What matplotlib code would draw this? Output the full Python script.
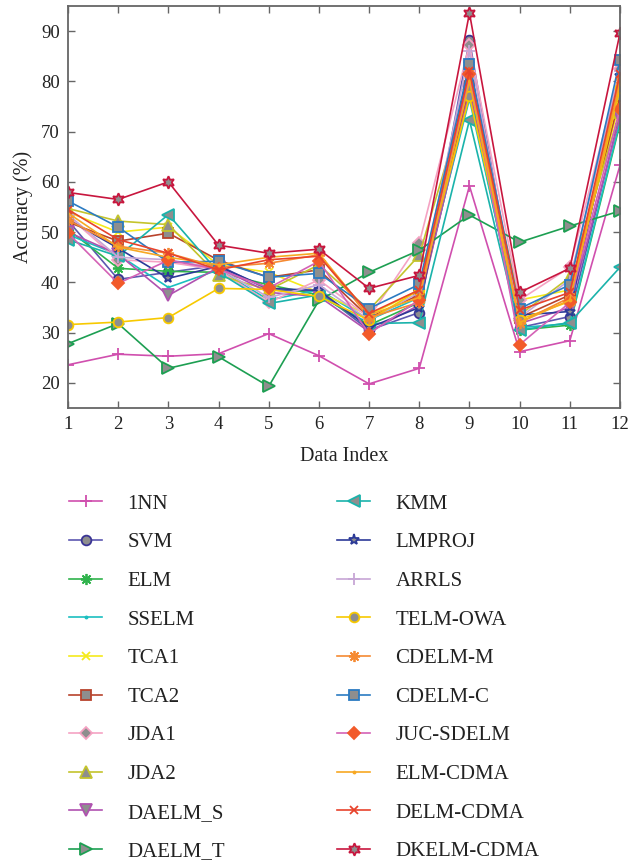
import numpy as np
import matplotlib.pyplot as plt

plt.rcParams['font.family'] = ['Liberation Serif', 'DejaVu Serif']

x = np.arange(1, 13)

# accuracy (%) per method, data index 1..12
acc_1nn = [23.6, 25.7, 25.3, 25.8, 29.8, 25.4, 19.8, 22.9, 59.2, 26.2, 28.4, 63.3]
acc_svm = [52.3, 40.6, 42.0, 43.4, 38.5, 38.2, 30.5, 34.0, 88.2, 31.0, 33.2, 73.5]
acc_elm = [50.5, 42.8, 42.2, 42.0, 39.5, 37.5, 31.5, 36.0, 77.5, 30.5, 31.5, 71.6]
acc_sselm = [49.5, 45.5, 39.0, 42.5, 36.5, 38.5, 32.5, 37.0, 76.5, 31.0, 31.8, 72.0]
acc_tca1 = [54.0, 50.0, 51.0, 43.5, 42.0, 38.0, 33.5, 38.5, 78.5, 36.5, 38.5, 76.0]
acc_tca2 = [52.0, 48.2, 49.8, 44.4, 41.0, 42.5, 33.0, 37.5, 79.0, 33.0, 37.5, 77.0]
acc_jda1 = [53.2, 44.5, 44.0, 42.5, 36.0, 40.5, 33.0, 47.8, 87.3, 36.5, 43.0, 82.5]
acc_jda2 = [54.7, 52.2, 51.5, 41.4, 38.5, 43.5, 34.5, 45.4, 79.5, 33.5, 41.0, 74.0]
acc_daelm_s = [50.0, 45.6, 37.4, 43.0, 38.0, 37.2, 30.2, 35.5, 78.0, 31.8, 35.0, 73.0]
acc_daelm_t = [27.8, 31.8, 22.9, 25.2, 19.3, 36.4, 42.0, 46.4, 53.4, 48.0, 51.2, 54.2]
acc_kmm = [48.5, 45.2, 53.5, 42.0, 35.8, 37.5, 31.8, 32.0, 72.3, 30.5, 32.0, 43.0]
acc_lmproj = [52.5, 46.8, 40.8, 43.2, 38.8, 38.4, 31.0, 35.0, 83.5, 33.5, 34.2, 81.0]
acc_arrls = [53.5, 45.0, 44.5, 42.8, 37.0, 39.5, 32.5, 38.0, 86.0, 33.0, 40.5, 82.0]
acc_telm_owa = [31.6, 32.1, 33.0, 38.8, 38.6, 37.2, 32.5, 38.5, 77.0, 32.6, 36.2, 78.6]
acc_cdelm_m = [52.4, 47.2, 45.8, 43.0, 43.8, 45.5, 33.0, 36.0, 81.6, 32.0, 37.0, 80.5]
acc_cdelm_c = [56.2, 51.0, 44.0, 44.2, 41.0, 41.8, 34.8, 39.6, 83.5, 34.8, 39.5, 84.3]
acc_juc_sdelm = [49.8, 39.8, 44.4, 42.6, 38.9, 44.2, 29.8, 36.5, 81.4, 27.6, 36.0, 74.6]
acc_elm_cdma = [53.8, 47.0, 45.0, 43.5, 45.0, 45.8, 33.5, 37.0, 80.0, 32.0, 36.5, 79.5]
acc_delm_cdma = [54.5, 48.5, 45.8, 42.5, 44.5, 45.2, 33.8, 38.5, 82.0, 34.5, 38.0, 81.5]
acc_dkelm_cdma = [57.9, 56.5, 60.0, 47.4, 45.8, 46.6, 38.8, 41.4, 93.6, 38.0, 42.8, 89.6]

gray = '#8e8e8e'
asterisk = (8, 2, 0)
hexagram = (6, 1, 0)

# label, data, line color, marker, marker face, marker edge, marker size
series = [
    ('1NN', acc_1nn, '#d04fae', '+', 'none', '#d04fae', 8),
    ('SVM', acc_svm, '#5c58b0', 'o', gray, '#3a3494', 7),
    ('ELM', acc_elm, '#2fb34c', asterisk, '#2fb34c', '#2fb34c', 8),
    ('SSELM', acc_sselm, '#1bbfc0', '.', '#1bbfc0', '#1bbfc0', 3),
    ('TCA1', acc_tca1, '#f5ea1c', 'x', 'none', '#f5ea1c', 6),
    ('TCA2', acc_tca2, '#b8432c', 's', gray, '#b8432c', 6.5),
    ('JDA1', acc_jda1, '#f5a3c3', 'D', gray, '#f5a3c3', 6),
    ('JDA2', acc_jda2, '#c4c42c', '^', gray, '#c4c42c', 8),
    ('DAELM_S', acc_daelm_s, '#b052b0', 'v', gray, '#b052b0', 8),
    ('DAELM_T', acc_daelm_t, '#1d9f52', '>', gray, '#1d9f52', 8),
    ('KMM', acc_kmm, '#1ab3ab', '<', gray, '#1ab3ab', 8),
    ('LMPROJ', acc_lmproj, '#2c3a98', '*', gray, '#2c3a98', 8),
    ('ARRLS', acc_arrls, '#c7a6d6', '+', 'none', '#c7a6d6', 8),
    ('TELM-OWA', acc_telm_owa, '#f7c900', 'o', gray, '#f7c900', 7),
    ('CDELM-M', acc_cdelm_m, '#f58a32', asterisk, '#f58a32', '#f58a32', 8),
    ('CDELM-C', acc_cdelm_c, '#2b7bc2', 's', gray, '#2b7bc2', 6.5),
    ('JUC-SDELM', acc_juc_sdelm, '#d462b6', 'D', '#f25a2a', '#f25a2a', 6),
    ('ELM-CDMA', acc_elm_cdma, '#f7a823', '.', '#f7a823', '#f7a823', 3),
    ('DELM-CDMA', acc_delm_cdma, '#e8432c', 'x', 'none', '#e8432c', 6),
    ('DKELM-CDMA', acc_dkelm_cdma, '#c8163e', hexagram, gray, '#c8163e', 9),
]

fig = plt.figure(figsize=(6.33, 8.61), dpi=100)
ax = fig.add_axes([68 / 633, 1 - 408 / 861, (620 - 68) / 633, (408 - 6) / 861])

handles = []
for name, vals, col, mk, mfc, mec, ms in series:
    h, = ax.plot(x, vals, color=col, lw=1.2, marker=mk, markerfacecolor=mfc,
                 markeredgecolor=mec, markersize=ms, markeredgewidth=1.3, label=name)
    handles.append(h)

ax.set_xlim(1, 12)
ax.set_ylim(15, 95)
ax.set_xticks(x)
ax.set_yticks([20, 30, 40, 50, 60, 70, 80, 90])
ax.tick_params(direction='in', top=True, right=True, length=5, width=1,
               color='#666666', labelsize=13.5, labelcolor='#222222', pad=6)
for s in ax.spines.values():
    s.set_color('#666666')
    s.set_linewidth(1.3)
ax.set_xlabel('Data Index', fontsize=14.5, color='#222222', labelpad=10)
ax.set_ylabel('Accuracy (%)', fontsize=14.5, color='#222222', labelpad=6)

leg_kw = dict(frameon=False, fontsize=15, handlelength=1.6, handletextpad=1.2,
              labelspacing=0.915, borderaxespad=0, borderpad=0)
leg1 = fig.legend(handles=handles[:10], loc='upper left',
                  bbox_to_anchor=(69 / 633, 1 - 494 / 861), **leg_kw)
leg2 = fig.legend(handles=handles[10:], loc='upper left',
                  bbox_to_anchor=(337 / 633, 1 - 494 / 861), **leg_kw)
for lg in (leg1, leg2):
    for t in lg.get_texts():
        t.set_color('#222222')

fig.savefig('out.png', dpi=100)
